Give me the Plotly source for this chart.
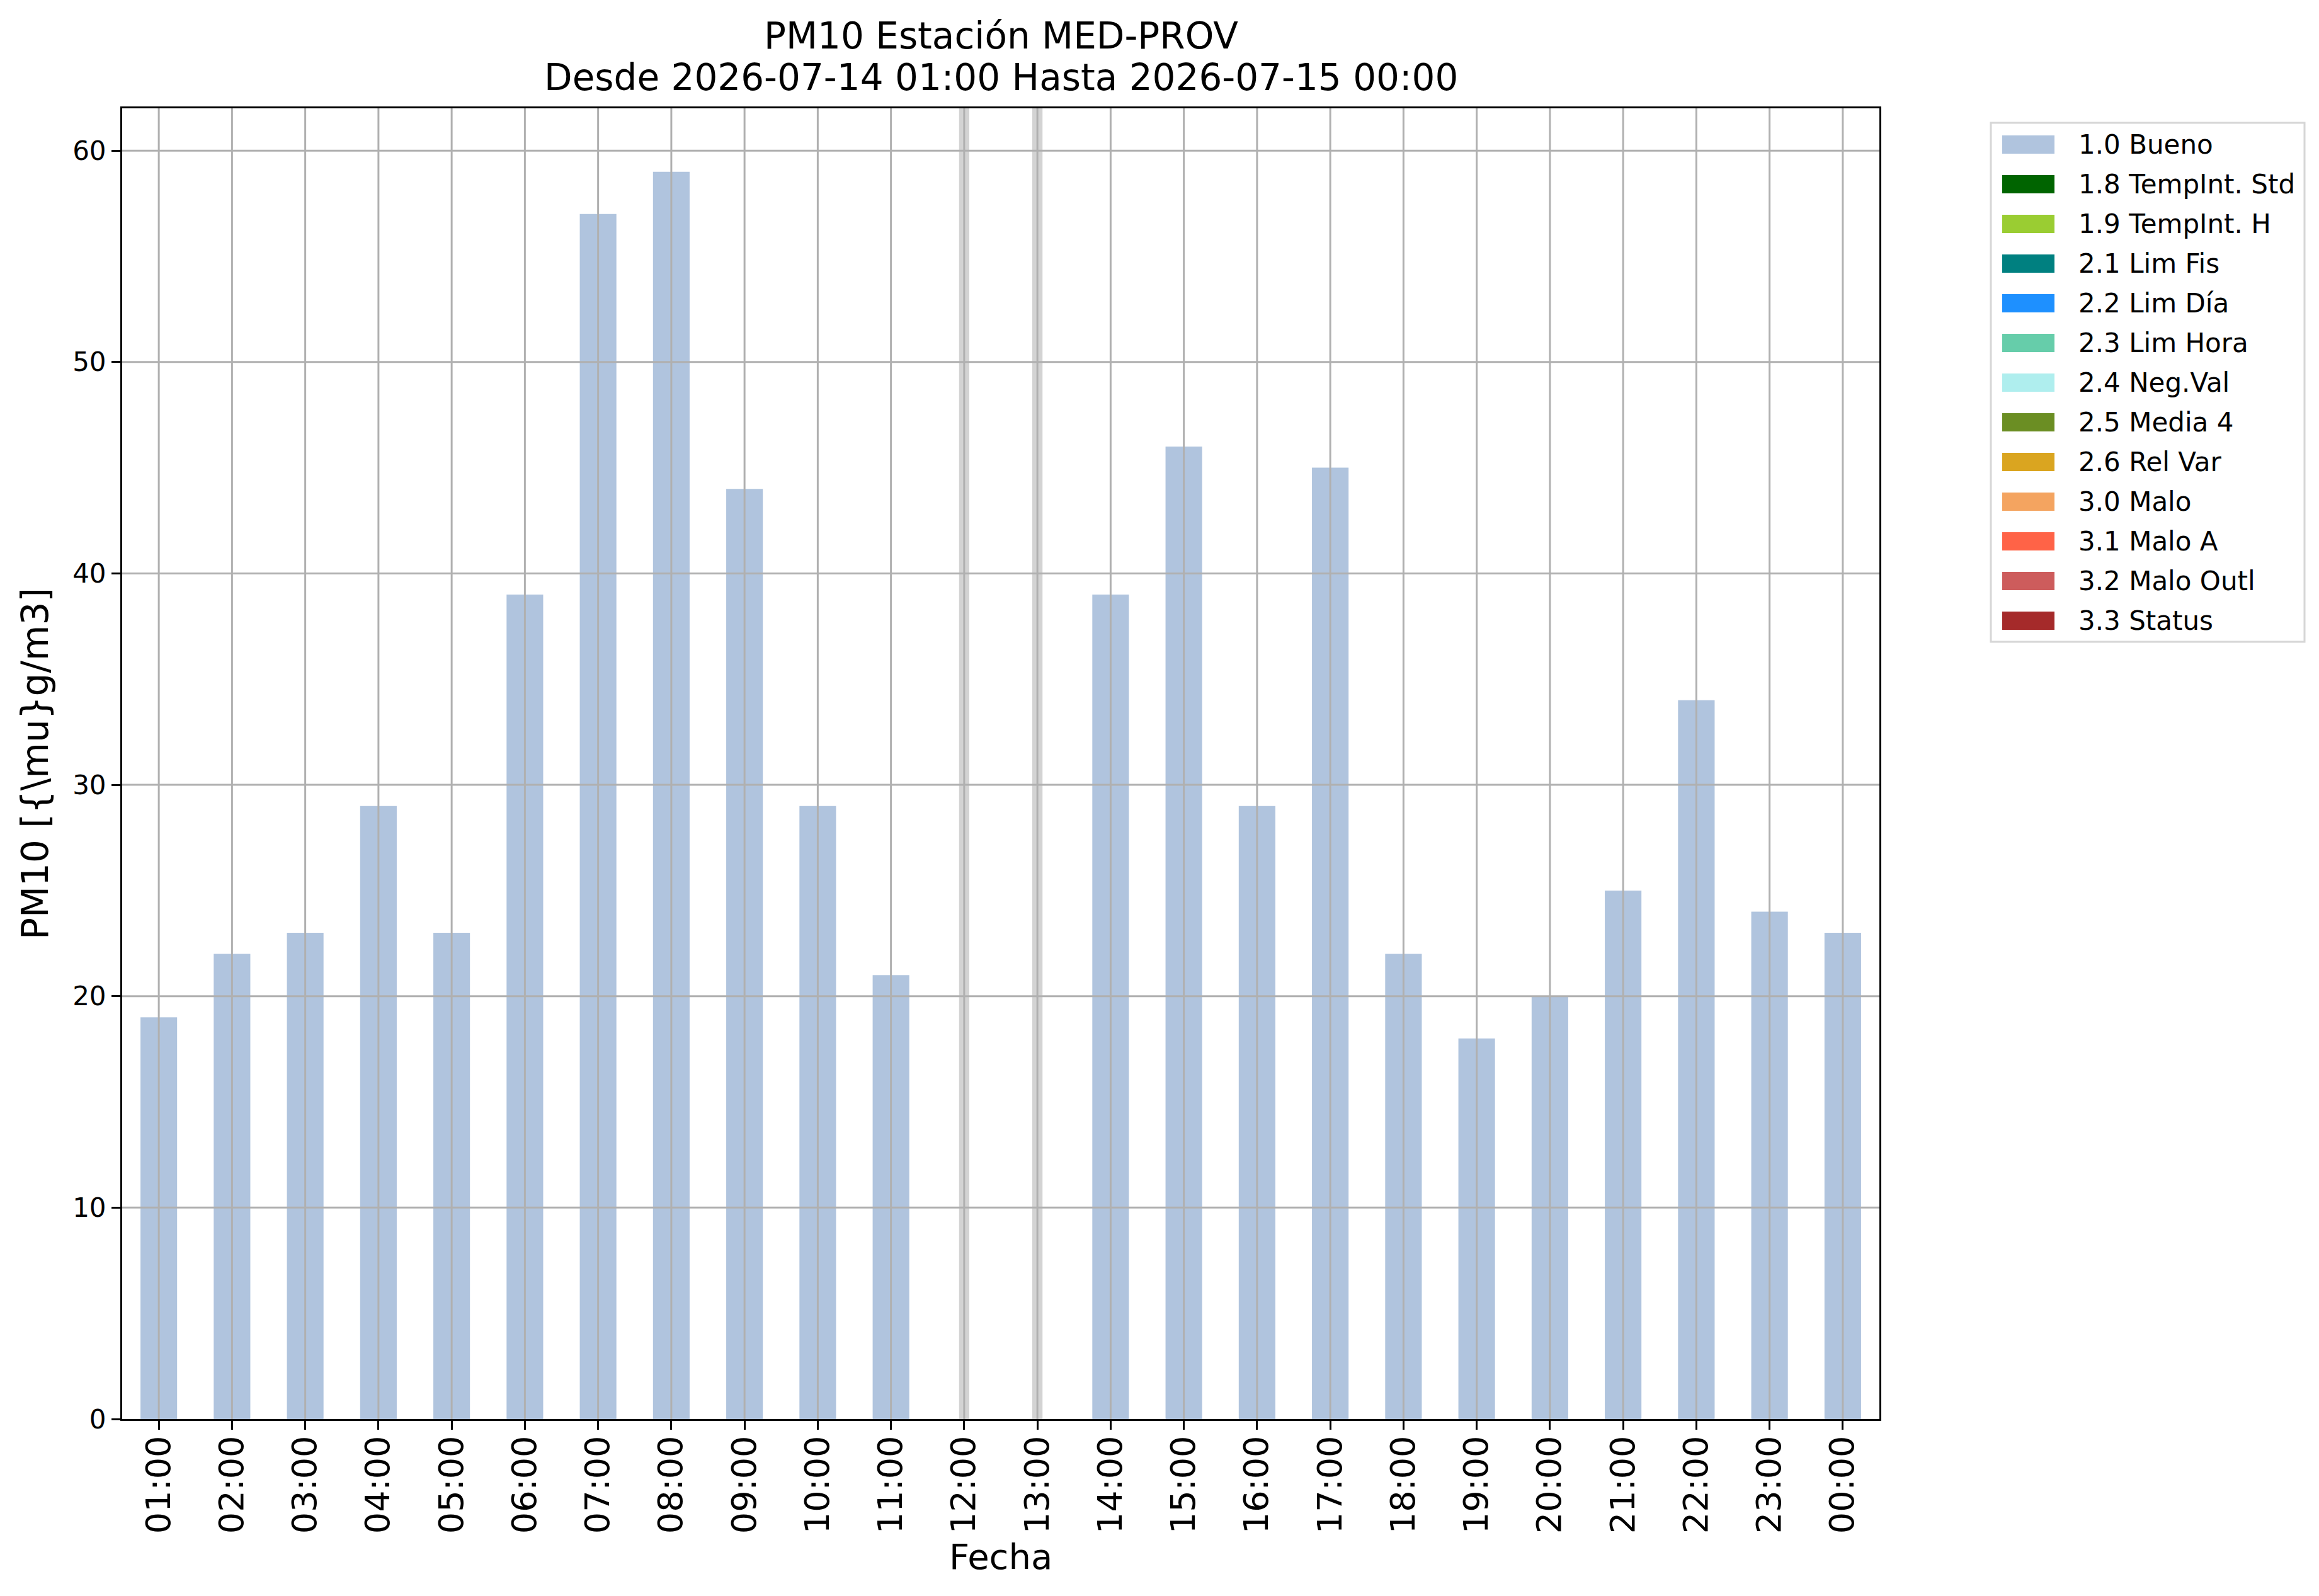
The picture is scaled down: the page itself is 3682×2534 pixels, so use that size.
import plotly.graph_objects as go

# datos horarios PM10 (µg/m3), None = sin dato
horas = ["01:00", "02:00", "03:00", "04:00", "05:00", "06:00", "07:00", "08:00",
         "09:00", "10:00", "11:00", "12:00", "13:00", "14:00", "15:00", "16:00",
         "17:00", "18:00", "19:00", "20:00", "21:00", "22:00", "23:00", "00:00"]
pm10 = [19, 22, 23, 29, 23, 39, 57, 59, 44, 29, 21, None, None,
        39, 46, 29, 45, 22, 18, 20, 25, 34, 24, 23]
y_ticks = [0, 10, 20, 30, 40, 50, 60]

etiquetas = ["1.0 Bueno", "1.8 TempInt. Std", "1.9 TempInt. H", "2.1 Lim Fis",
             "2.2 Lim Día", "2.3 Lim Hora", "2.4 Neg.Val", "2.5 Media 4",
             "2.6 Rel Var", "3.0 Malo", "3.1 Malo A", "3.2 Malo Outl", "3.3 Status"]
colores = ["#b0c4de", "#006400", "#9acd32", "#008080", "#1e90ff", "#66cdaa",
           "#afeeee", "#6b8e23", "#daa520", "#f4a460", "#ff6347", "#cd5c5c", "#a52a2a"]

titulo = ["PM10 Estación MED-PROV", "Desde 2026-07-14 01:00 Hasta 2026-07-15 00:00"]
xlabel = "Fecha"
ylabel = "PM10 [{\\mu}g/m3]"

W, H = 3682, 2534
L, R, T, B = 186, 2976, 164, 2245
FONT = "DejaVu Sans"
GRID = "#b0b0b0"


def px(xp):
    return (xp - L) / (R - L)


def py(yp):
    return (B - yp) / (B - T)


fig = go.Figure()
fig.add_trace(go.Bar(x=horas, y=pm10, width=0.5, marker=dict(color=colores[0], line=dict(width=0)),
                     showlegend=False))

# bandas grises donde falta el dato
for i, v in enumerate(pm10):
    if v is None:
        fig.add_vrect(x0=i - 0.07, x1=i + 0.07, fillcolor="#d3d3d3", line_width=0,
                      layer="below", opacity=1)

# rejilla por encima de las barras (como en matplotlib)
for i in range(len(horas)):
    fig.add_vline(x=i, line=dict(color=GRID, width=3), layer="above")
for v in y_ticks[1:]:
    fig.add_hline(y=v, line=dict(color=GRID, width=3), layer="above")

# leyenda a mano (parches anchos como matplotlib)
fig.add_shape(type="rect", xref="paper", yref="paper", x0=px(3153), x1=px(3651),
              y0=py(1011), y1=py(187), line=dict(color="#d6d6d6", width=3),
              fillcolor="white", layer="above")
for i, (lab, col) in enumerate(zip(etiquetas, colores)):
    yc = 221.5 + 63 * i
    fig.add_shape(type="rect", xref="paper", yref="paper", x0=px(3171), x1=px(3254),
                  y0=py(yc + 14.5), y1=py(yc - 14.5), line_width=0, fillcolor=col, layer="above")
    fig.add_annotation(text=lab, xref="paper", yref="paper", x=px(3290), y=py(yc),
                       xanchor="left", yanchor="middle", showarrow=False,
                       font=dict(family=FONT, size=42, color="black"))

# titulo en dos lineas
for k, t in enumerate(titulo):
    fig.add_annotation(text=t, xref="paper", yref="paper", x=0.5, y=py(49 + 66 * k),
                       xanchor="center", yanchor="middle", showarrow=False,
                       font=dict(family=FONT, size=58, color="black"))

# etiqueta del eje x
fig.add_annotation(text=xlabel, xref="paper", yref="paper", x=0.5, y=py(2463),
                   xanchor="center", yanchor="middle", showarrow=False,
                   font=dict(family=FONT, size=56, color="black"))

fig.update_layout(
    width=W, height=H,
    margin=dict(l=L, r=W - R, t=T, b=H - B, pad=0),
    plot_bgcolor="white", paper_bgcolor="white",
    font=dict(family=FONT, color="black"),
    bargap=0.5,
)
fig.update_xaxes(
    type="category", range=[-0.5, len(horas) - 0.5], tickangle=-90,
    tickfont=dict(size=54), ticks="outside", ticklen=14, tickwidth=3, tickcolor="black",
    ticklabelstandoff=-12,
    showline=True, linecolor="black", linewidth=3, mirror=True,
    showgrid=False, layer="above traces",
)
fig.update_yaxes(
    range=[0, 62], tickvals=y_ticks, tickfont=dict(size=42),
    ticks="outside", ticklen=14, tickwidth=3, tickcolor="black",
    showline=True, linecolor="black", linewidth=3, mirror=True,
    showgrid=False, layer="above traces", zeroline=False,
    title=dict(text=ylabel, font=dict(size=58), standoff=20),
)

fig.write_html("out.html")
